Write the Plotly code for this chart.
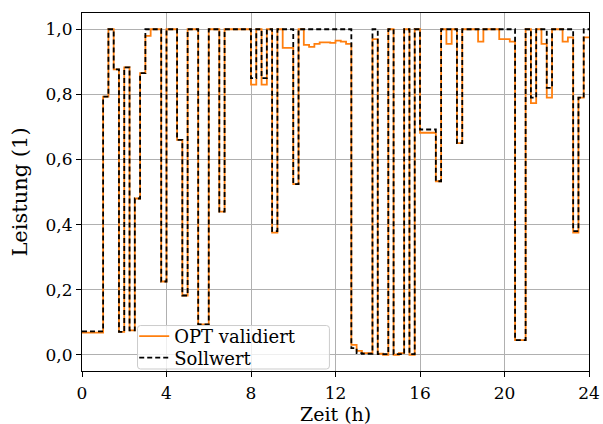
import numpy as np
import plotly.graph_objects as go

# Quarter-hour resolution over one day
step_h = 0.25
n_steps = 96

# Setpoint (Sollwert), one value per 15-minute interval
sollwert = [
    0.072, 0.072, 0.072, 0.072, 0.793, 1.0, 0.877, 0.07,      # 0-2 h
    0.883, 0.075, 0.48, 0.865, 1.0, 1.0, 1.0, 0.225,          # 2-4 h
    1.0, 1.0, 0.66, 0.182, 1.0, 1.0, 0.093, 0.093,            # 4-6 h
    1.0, 1.0, 0.44, 1.0, 1.0, 1.0, 1.0, 1.0,                  # 6-8 h
    0.85, 1.0, 0.85, 1.0, 0.38, 1.0, 1.0, 1.0,                # 8-10 h
    0.524, 1.0, 1.0, 1.0, 1.0, 1.0, 1.0, 1.0,                 # 10-12 h
    1.0, 1.0, 1.0, 0.02, 0.005, 0.003, 0.003, 1.0,            # 12-14 h
    0.002, 0.002, 1.0, 0.002, 0.002, 1.0, 0.002, 1.0,         # 14-16 h
    0.692, 0.692, 0.692, 0.533, 1.0, 1.0, 1.0, 0.65,          # 16-18 h
    1.0, 1.0, 1.0, 1.0, 1.0, 1.0, 1.0, 1.0,                   # 18-20 h
    1.0, 1.0, 0.045, 0.045, 1.0, 0.79, 1.0, 1.0,              # 20-22 h
    0.82, 1.0, 1.0, 1.0, 1.0, 0.38, 0.79, 1.0,                # 22-24 h
]

# Validated OPT output, one value per 15-minute interval
opt_validiert = [
    0.068, 0.068, 0.068, 0.068, 0.793, 1.0, 0.877, 0.07,      # 0-2 h
    0.883, 0.075, 0.48, 0.865, 0.98, 1.0, 1.0, 0.225,         # 2-4 h
    1.0, 1.0, 0.66, 0.182, 1.0, 1.0, 0.093, 0.093,            # 4-6 h
    1.0, 1.0, 0.44, 1.0, 1.0, 1.0, 1.0, 1.0,                  # 6-8 h
    0.83, 1.0, 0.83, 1.0, 0.375, 1.0, 0.943, 0.943,           # 8-10 h
    0.524, 1.0, 0.952, 0.946, 0.955, 0.96, 0.96, 0.958,       # 10-12 h
    0.965, 0.962, 0.955, 0.03, 0.012, 0.005, 0.005, 0.97,     # 12-14 h
    0.003, 0.0, 1.0, 0.0, 0.005, 1.0, 0.0, 1.0,               # 14-16 h
    0.682, 0.682, 0.682, 0.533, 1.0, 0.955, 1.0, 0.65,        # 16-18 h
    1.0, 1.0, 1.0, 0.962, 1.0, 1.0, 1.0, 0.97,                # 18-20 h
    0.97, 0.962, 0.045, 0.045, 1.0, 0.773, 1.0, 0.955,        # 20-22 h
    0.79, 1.0, 1.0, 0.962, 0.975, 0.375, 0.79, 0.975,         # 22-24 h
]

x_ticks = [0, 4, 8, 12, 16, 20, 24]
y_ticks = [0.0, 0.2, 0.4, 0.6, 0.8, 1.0]

# Step edges: start of each interval plus the end of the day
t = list(np.arange(n_steps + 1) * step_h)


def closed(values):
    return list(values) + [values[-1]]


font_family = "DejaVu Serif, serif"

fig = go.Figure()
fig.add_trace(go.Scatter(
    x=t, y=closed(opt_validiert), mode="lines", line_shape="hv",
    name="OPT validiert", legend="legend",
    line=dict(color="#ff7f0e", width=1.8),
))
fig.add_trace(go.Scatter(
    x=t, y=closed(sollwert), mode="lines", line_shape="hv",
    name="Sollwert", legend="legend2",
    line=dict(color="black", width=1.8, dash="5px,3px"),
))

axis_common = dict(
    showline=True, linecolor="black", linewidth=1, mirror=True,
    showgrid=True, gridcolor="#b0b0b0", gridwidth=1,
    ticks="outside", ticklen=5, tickwidth=1, tickcolor="black",
    zeroline=False, automargin=False,
    tickfont=dict(family=font_family, size=17, color="black"),
)

# Legend frame with slightly rounded corners (paper coordinates)
fx0, fx1, fy0, fy1 = 0.1095, 0.488, 0.0056, 0.127
rx, ry = 3 / 507, 3 / 358
frame_path = (
    f"M{fx0 + rx},{fy0} L{fx1 - rx},{fy0} Q{fx1},{fy0} {fx1},{fy0 + ry} "
    f"L{fx1},{fy1 - ry} Q{fx1},{fy1} {fx1 - rx},{fy1} "
    f"L{fx0 + rx},{fy1} Q{fx0},{fy1} {fx0},{fy1 - ry} "
    f"L{fx0},{fy0 + ry} Q{fx0},{fy0} {fx0 + rx},{fy0} Z"
)

legend_common = dict(
    xanchor="left", yanchor="middle",
    bgcolor="rgba(0,0,0,0)", borderwidth=0,
    font=dict(family=font_family, size=18, color="black"),
    itemwidth=30,
)

fig.update_layout(
    width=603, height=424,
    margin=dict(l=82, r=14, t=13, b=53),
    paper_bgcolor="white", plot_bgcolor="white",
    separators=",.",
    font=dict(family=font_family, color="black", size=18),
    xaxis=dict(
        range=[0, 24], tickvals=x_ticks, ticklabelstandoff=2,
        **axis_common,
    ),
    yaxis=dict(
        range=[-0.05, 1.05], tickvals=y_ticks, tickformat=".1f",
        title=dict(text="Leistung (1)", font=dict(size=21), standoff=12),
        **axis_common,
    ),
    annotations=[dict(
        text="Zeit (h)", xref="paper", yref="paper", x=0.5, y=-0.1215,
        xanchor="center", yanchor="middle", showarrow=False, borderpad=0,
        font=dict(family=font_family, size=19, color="black"),
    )],
    legend=dict(x=0.103, y=0.0964, **legend_common),
    legend2=dict(x=0.103, y=0.0363, **legend_common),
    shapes=[dict(
        type="path", xref="paper", yref="paper", path=frame_path,
        fillcolor="rgba(255,255,255,0.8)", line=dict(color="#cccccc", width=1),
        layer="above",
    )],
    showlegend=True,
)

fig.write_html("out.html")
